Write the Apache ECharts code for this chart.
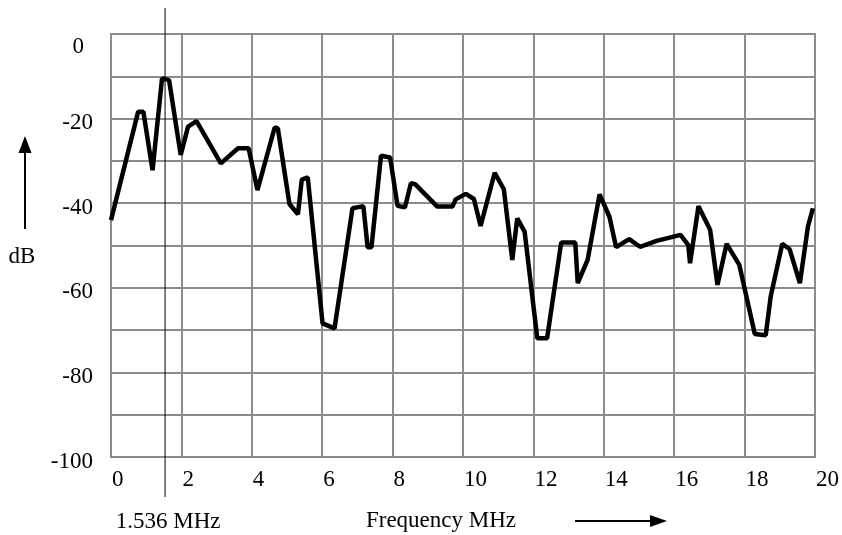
<!DOCTYPE html>
<html>
<head>
<meta charset="utf-8">
<script src="https://cdn.jsdelivr.net/npm/echarts@6/dist/echarts.min.js"></script>
<style>
  html, body { margin: 0; padding: 0; background: #fff; }
  #main { width: 842px; height: 535px; }
</style>
</head>
<body>
<div id="main"></div>
<script>
  // 频率 (MHz)
  var freqs = [0, 0.77, 0.92, 1.18, 1.45, 1.65, 1.98, 2.19, 2.43, 3.12, 3.61, 3.91, 4.16, 4.65, 4.74,
    5.07, 5.31, 5.42, 5.59, 6.01, 6.35, 6.86, 7.17, 7.29, 7.40, 7.67, 7.93, 8.14, 8.35, 8.52, 8.64,
    9.27, 9.70, 9.79, 10.08, 10.31, 10.50, 10.90, 11.16, 11.40, 11.54, 11.75, 12.11, 12.39, 12.79,
    13.19, 13.26, 13.54, 13.88, 14.16, 14.35, 14.72, 15.03, 15.50, 16.18, 16.40, 16.45, 16.69, 17.02,
    17.23, 17.49, 17.85, 18.29, 18.60, 18.74, 19.07, 19.28, 19.57, 19.80, 19.94];
  // 电平 (dB)
  var levels = [-44, -18.4, -18.4, -32.2, -10.5, -10.9, -28.6, -21.9, -20.6, -30.6, -27.0, -27.0, -36.9, -22.1, -22.3,
    -40.2, -42.6, -34.4, -33.9, -68.4, -69.6, -41.2, -40.7, -50.4, -50.4, -28.8, -29.2, -40.6, -41.0, -35.3, -35.5,
    -40.8, -40.8, -39.1, -37.8, -39.0, -45.4, -32.8, -36.7, -53.4, -43.6, -46.7, -71.9, -71.9, -49.3,
    -49.3, -58.9, -53.4, -37.9, -43.2, -50.4, -48.5, -50.3, -48.9, -47.5, -49.9, -54.2, -40.7, -46.3,
    -59.3, -49.6, -54.6, -70.9, -71.2, -62.1, -49.6, -50.9, -58.9, -45.5, -41.2];
  var markerFreq = 1.536;
  var markerLabel = '1.536 MHz';
  var xTitle = 'Frequency MHz';
  var yTitle = 'dB';

  var font = 'Liberation Serif';
  var fs = 23;
  var gridColor = '#8c8c8c';

  var chart = echarts.init(document.getElementById('main'));
  var option = {
    animation: false,
    grid: { left: 111, right: 25, top: 34, bottom: 78, show: true, borderColor: gridColor, borderWidth: 2 },
    xAxis: {
      type: 'value',
      min: 0, max: 20, interval: 2,
      axisLine: { show: false },
      axisTick: { show: false },
      splitLine: { show: true, lineStyle: { color: gridColor, width: 2 } },
      axisLabel: {
        color: '#000', fontFamily: font, fontSize: fs,
        align: 'left', margin: 11, padding: [0, 0, 0, 1]
      }
    },
    yAxis: {
      type: 'value',
      min: -100, max: 0, interval: 20,
      axisLine: { show: false },
      axisTick: { show: false },
      splitLine: { show: true, lineStyle: { color: gridColor, width: 2 } },
      minorTick: { show: false, splitNumber: 2 },
      minorSplitLine: { show: true, lineStyle: { color: gridColor, width: 2 } },
      axisLabel: {
        color: '#000', fontFamily: font, fontSize: fs, margin: 18,
        formatter: function (v) { return v === 0 ? '{z|0}' : '{a|' + v + '}'; },
        rich: {
          a: { fontFamily: font, fontSize: fs, padding: [9, 0, 0, 0] },
          z: { fontFamily: font, fontSize: fs, padding: [26, 9, 0, 0] }
        }
      }
    },
    series: [{
      type: 'line',
      symbol: 'none',
      lineStyle: { color: '#000', width: 4.5 },
      data: freqs.map(function (f, i) { return [f, levels[i]]; })
    }]
  };
  chart.setOption(option);

  // 标注线与箭头
  var mx = chart.convertToPixel({ xAxisIndex: 0 }, markerFreq);
  var tf = fs + 'px ' + font;
  chart.setOption({
    graphic: [
      { type: 'line', shape: { x1: mx, y1: 8, x2: mx, y2: 497 }, style: { stroke: '#000', lineWidth: 1 } },
      { type: 'text', x: mx + 3, y: 522, style: { text: markerLabel, font: tf, fill: '#000', textAlign: 'center', textVerticalAlign: 'middle' } },
      { type: 'text', x: 441, y: 521, style: { text: xTitle, font: tf, fill: '#000', textAlign: 'center', textVerticalAlign: 'middle' } },
      { type: 'line', shape: { x1: 575, y1: 521, x2: 652, y2: 521 }, style: { stroke: '#000', lineWidth: 2 } },
      { type: 'polygon', shape: { points: [[650, 515], [667, 521], [650, 527]] }, style: { fill: '#000' } },
      { type: 'text', x: 22, y: 257, style: { text: yTitle, font: tf, fill: '#000', textAlign: 'center', textVerticalAlign: 'middle' } },
      { type: 'line', shape: { x1: 25, y1: 229, x2: 25, y2: 150 }, style: { stroke: '#000', lineWidth: 2 } },
      { type: 'polygon', shape: { points: [[18.5, 153], [25, 136], [31.5, 153]] }, style: { fill: '#000' } }
    ]
  });
</script>
</body>
</html>
